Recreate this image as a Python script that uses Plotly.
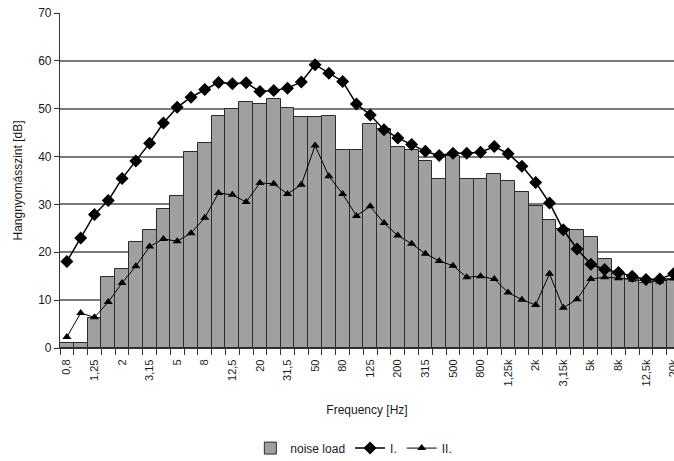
import plotly.graph_objects as go

freq_labels = ["0,8", "1", "1,25", "1,6", "2", "2,5", "3,15", "4", "5", "6,3", "8", "10",
               "12,5", "16", "20", "25", "31,5", "40", "50", "63", "80", "100", "125", "160",
               "200", "250", "315", "400", "500", "630", "800", "1k", "1,25k", "1,6k", "2k",
               "2,5k", "3,15k", "4k", "5k", "6,3k", "8k", "10k", "12,5k", "16k", "20k"]

noise_load = [1.0, 1.0, 6.3, 14.8, 16.6, 22.1, 24.7, 29.0, 31.7, 40.9, 42.8, 48.4,
              49.9, 51.3, 51.0, 52.0, 50.2, 48.2, 48.2, 48.5, 41.3, 41.3, 46.9, 45.8,
              41.9, 41.4, 39.0, 35.3, 40.2, 35.3, 35.3, 36.4, 34.8, 32.7, 29.7,
              26.8, 24.9, 24.7, 23.2, 18.6, 15.4, 14.5, 13.6, 13.9, 14.4]

series_I = [18.1, 23.0, 27.9, 30.8, 35.4, 39.1, 42.8, 47.0, 50.3, 52.4, 54.0, 55.5,
            55.2, 55.4, 53.6, 53.8, 54.3, 55.6, 59.2, 57.4, 55.7, 51.0, 48.7, 45.6,
            43.9, 42.5, 41.1, 40.2, 40.7, 40.7, 40.9, 42.1, 40.6, 38.0, 34.6,
            30.3, 24.7, 20.7, 17.5, 16.4, 15.8, 15.0, 14.3, 14.4, 15.5]

series_II = [2.3, 7.3, 6.4, 9.6, 13.6, 17.1, 21.2, 22.8, 22.3, 24.0, 27.2, 32.4,
             32.0, 30.5, 34.5, 34.3, 32.2, 34.1, 42.3, 35.9, 32.2, 27.6, 29.6, 26.1,
             23.5, 21.8, 19.7, 18.2, 17.2, 14.8, 15.0, 14.4, 11.6, 10.1, 9.0,
             15.5, 8.4, 10.2, 14.4, 14.8, 14.6, 14.3, 14.0, 13.9, 14.5]

x_idx = list(range(len(freq_labels)))
tick_vals = x_idx[::2]
tick_text = freq_labels[::2]

FONT = "Liberation Sans, Arial, sans-serif"

fig = go.Figure()
fig.add_trace(go.Bar(
    x=x_idx, y=noise_load, name="noise load",
    marker=dict(color="#a0a0a0", line=dict(color="#2b2b2b", width=1)),
    width=1.0,
))
fig.add_trace(go.Scatter(
    x=x_idx, y=series_I, name="I.", mode="lines+markers",
    line=dict(color="black", width=1.5),
    marker=dict(symbol="diamond", size=10, color="black"),
))
fig.add_trace(go.Scatter(
    x=x_idx, y=series_II, name="II.", mode="lines+markers",
    line=dict(color="black", width=1),
    marker=dict(symbol="triangle-up", size=8, color="black"),
))

fig.update_layout(
    width=674, height=461,
    margin=dict(l=60, r=0, t=13, b=113),
    paper_bgcolor="white", plot_bgcolor="white",
    font=dict(family=FONT, size=12, color="#1a1a1a"),
    bargap=0,
    showlegend=True,
    legend=dict(orientation="h", x=0.31, xanchor="left",
                yref="container", y=0.028, yanchor="middle",
                font=dict(size=12), itemwidth=30, tracegroupgap=0),
    xaxis=dict(
        range=[-0.5, 44.03],
        tickmode="array", tickvals=tick_vals, ticktext=tick_text,
        tickangle=-90, ticks="", tickfont=dict(size=11),
        ticklabelstandoff=6, ticklabeloverflow="allow",
        showgrid=False, zeroline=False, automargin=False,
        showline=True, linecolor="#333333", linewidth=1.2,
        minor=dict(tick0=-0.5, dtick=1, ticks="outside", ticklen=6,
                   tickcolor="#333333", tickwidth=1, showgrid=False),
        title=dict(text="Frequency [Hz]", font=dict(size=12), standoff=20),
    ),
    yaxis=dict(
        range=[0, 70], dtick=10,
        ticks="outside", ticklen=5, tickcolor="#333333",
        tickfont=dict(size=12), automargin=False,
        showgrid=True, gridcolor="#7a7a7a", gridwidth=1.5,
        zeroline=False,
        showline=True, linecolor="#333333", linewidth=1.2,
        title=dict(text="Hangnyomásszint [dB]", font=dict(size=12), standoff=12),
    ),
)

fig.write_html("out.html", config={"displayModeBar": False},
               post_script="document.body.style.margin='0';")
